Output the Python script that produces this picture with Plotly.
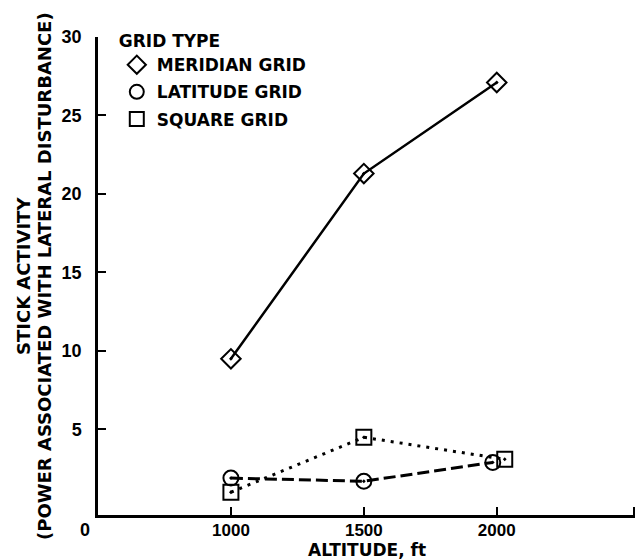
import plotly.graph_objects as go

# ---- data ----
alt_meridian = [1000, 1500, 2000]
stick_meridian = [9.5, 21.3, 27.1]
alt_latitude = [1000, 1500, 1985]
stick_latitude = [1.9, 1.7, 2.9]
alt_square = [1000, 1500, 2030]
stick_square = [1.0, 4.5, 3.1]
series_names = ["MERIDIAN GRID", "LATITUDE GRID", "SQUARE GRID"]
x_ticks = [1000, 1500, 2000]
y_ticks = [5, 10, 15, 20, 25, 30]

TICKFONT = "Liberation Sans"
TEXTFONT = "DejaVu Sans"
BLACK = "black"

fig = go.Figure()

specs = [
    (alt_meridian, stick_meridian, "diamond-open-dot", "solid", 2.5),
    (alt_latitude, stick_latitude, "circle-open-dot", "12px,5px", 3),
    (alt_square, stick_square, "square-open-dot", "3px,6px", 3),
]
for (xs, ys, sym, dash, lw), name in zip(specs, series_names):
    fig.add_trace(go.Scatter(
        x=xs, y=ys, mode="lines+markers", showlegend=False,
        line=dict(color=BLACK, width=lw, dash=dash),
        marker=dict(symbol=sym, size=15, color=BLACK,
                    line=dict(color=BLACK, width=2)),
    ))

# legend-only entries (marker symbols only)
for (xs, ys, sym, dash, lw), name in zip(specs, series_names):
    fig.add_trace(go.Scatter(
        x=[None], y=[None], mode="markers", name=name, legendgroup=name,
        marker=dict(symbol=sym.replace("-dot", ""), size=14, color=BLACK,
                    line=dict(color=BLACK, width=2)),
    ))

# origin label
fig.add_annotation(
    x=0, y=0, xref="paper", yref="paper", text="0", showarrow=False,
    xshift=-13, yshift=-15, xanchor="center", yanchor="middle",
    font=dict(family=TICKFONT, size=18, color=BLACK, weight="bold"),
)
# x-axis title
fig.add_annotation(
    x=0.5, y=0, xref="paper", yref="paper", text="ALTITUDE, ft", showarrow=False,
    yshift=-35, xanchor="center", yanchor="middle",
    font=dict(family=TEXTFONT, size=17, color=BLACK, weight="bold"),
)
# y-axis title (two lines)
fig.add_annotation(
    x=0, y=0.5, xref="paper", yref="paper", text="STICK ACTIVITY", showarrow=False,
    xshift=-75, textangle=-90, xanchor="center", yanchor="middle",
    font=dict(family=TEXTFONT, size=18, color=BLACK, weight="bold"),
)
fig.add_annotation(
    x=0, y=0.5, xref="paper", yref="paper",
    text="(POWER ASSOCIATED WITH LATERAL DISTURBANCE)", showarrow=False,
    xshift=-54, textangle=-90, xanchor="center", yanchor="middle",
    font=dict(family=TEXTFONT, size=18, color=BLACK, weight="bold"),
)

fig.update_layout(
    width=637, height=560,
    margin=dict(l=98, r=2, t=37, b=45),
    paper_bgcolor="white", plot_bgcolor="white",
    font=dict(family=TICKFONT, size=18, color=BLACK, weight="bold"),
    legend=dict(
        x=0.035, y=1.025, xanchor="left", yanchor="top",
        title=dict(text="GRID TYPE", font=dict(family=TEXTFONT, size=17, weight="bold")),
        font=dict(family=TEXTFONT, size=17, weight="bold"),
        tracegroupgap=2, bgcolor="rgba(0,0,0,0)",
        itemwidth=30,
    ),
    xaxis=dict(
        range=[500, 2520], tickvals=x_ticks + [2515], ticktext=[str(v) for v in x_ticks] + [""],
        ticks="inside", ticklen=8, tickwidth=2, tickcolor=BLACK,
        showline=True, linecolor=BLACK, linewidth=2.5, showgrid=False, zeroline=False,
        tickfont=dict(family=TICKFONT, size=17, weight="bold"),
        ticklabelstandoff=-2,
    ),
    yaxis=dict(
        range=[-0.45, 30], tickvals=y_ticks,
        ticks="inside", ticklen=8, tickwidth=2, tickcolor=BLACK,
        showline=True, linecolor=BLACK, linewidth=2.5, showgrid=False, zeroline=False,
        tickfont=dict(family=TICKFONT, size=18, weight="bold"),
        ticklabelstandoff=10,
    ),
)

fig.write_html("out.html")
